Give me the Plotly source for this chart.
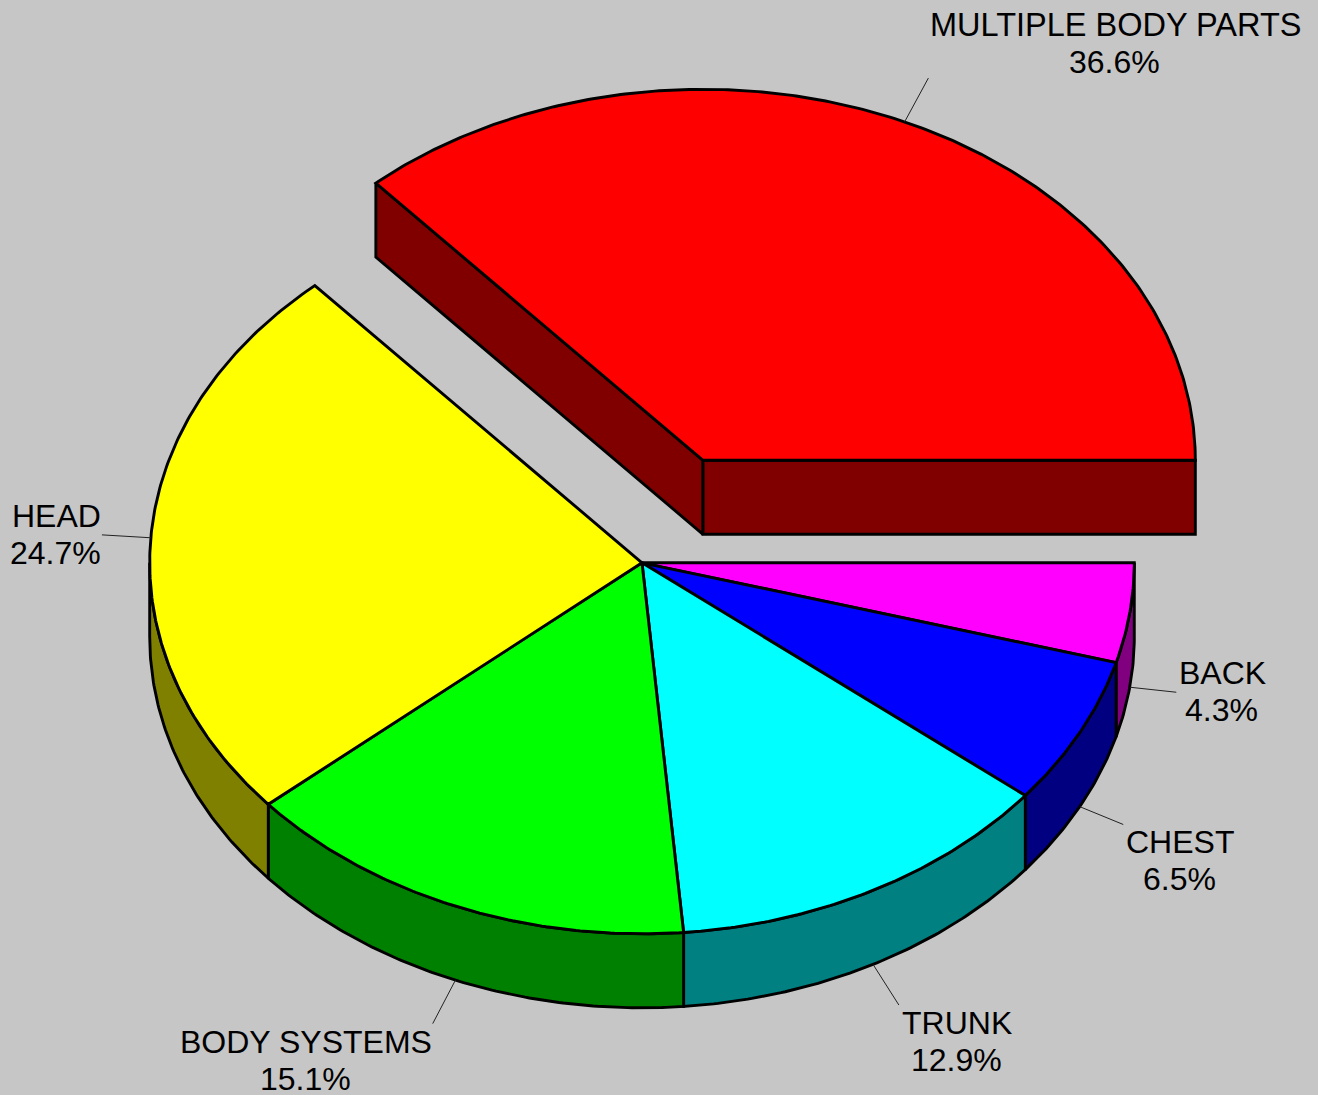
import numpy as np
import plotly.graph_objects as go

# Data
categories = ["BACK", "CHEST", "TRUNK", "BODY SYSTEMS", "HEAD", "MULTIPLE BODY PARTS"]
values = [4.34, 6.46, 12.86, 15.07, 24.72, 36.58]
exploded = [False, False, False, False, False, True]

# Styling
top_colors = ["#ff00ff", "#0000ff", "#00ffff", "#00ff00", "#ffff00", "#ff0000"]
side_colors = ["#800080", "#000080", "#008080", "#008000", "#808000", "#800000"]
BG = "#c6c6c6"
W, H = 1318, 1095

# Projection of the pie onto the page
CX, CY, RX, RY, DEPTH, PULL = 642, 562.8, 492.3, 371, 74, 149
LINE = dict(color="black", width=2.9)
FONT_FAMILY = "Liberation Sans, Arial, sans-serif"

# Label layout
leader_rx = [47, 49, 55, 60, 49, 58]
leader_ry = [37, 39, 46, 47, 43, 48]
label_x = [1222, 1180, 957, 306, 56, 1115]
label_y = [673, 842, 1023, 1042, 516, 25]
label_size = [32, 32, 32, 32, 32, 32.5]
LINE_GAP = 37.3

fractions = np.array(values) / sum(values)
edges = np.concatenate([[0], np.cumsum(fractions)]) * 2 * np.pi


def arc(a0, a1, cx, cy):
    n = max(2, int(abs(a1 - a0) * 180 / np.pi * 2) + 1)
    t = np.linspace(a0, a1, n)
    return cx + RX * np.cos(t), cy + RY * np.sin(t)


def poly(x, y, color):
    return go.Scatter(
        x=list(x) + [x[0]], y=list(y) + [y[0]], mode="lines", fill="toself",
        fillcolor=color, line=LINE, hoverinfo="skip", showlegend=False,
    )


fig = go.Figure()
centres = []
for i in range(len(values)):
    mid = (edges[i] + edges[i + 1]) / 2
    if exploded[i]:
        centres.append((CX + PULL * np.cos(mid), CY + PULL * 0.754 * np.sin(mid)))
    else:
        centres.append((CX, CY))

# Walls and rims, then tops
for i in range(len(values)):
    a0, a1 = edges[i], edges[i + 1]
    cx, cy = centres[i]
    if exploded[i]:
        for a in (a0, a1):
            ex, ey = cx + RX * np.cos(a), cy + RY * np.sin(a)
            fig.add_trace(poly([cx, ex, ex, cx], [cy, ey, ey + DEPTH, cy + DEPTH], side_colors[i]))
    lo, hi = max(a0, 0), min(a1, np.pi)
    if hi > lo:
        x, y = arc(lo, hi, cx, cy)
        fig.add_trace(poly(np.r_[x, x[::-1]], np.r_[y, (y + DEPTH)[::-1]], side_colors[i]))

for i in range(len(values)):
    cx, cy = centres[i]
    x, y = arc(edges[i], edges[i + 1], cx, cy)
    fig.add_trace(poly(np.r_[cx, x], np.r_[cy, y], top_colors[i]))

# Leaders and labels
annotations = []
for i, name in enumerate(categories):
    mid = (edges[i] + edges[i + 1]) / 2
    cx, cy = centres[i]
    sx, sy = cx + RX * np.cos(mid), cy + RY * np.sin(mid)
    if np.sin(mid) > 0:
        sy += DEPTH
    ex, ey = sx + leader_rx[i] * np.cos(mid), sy + leader_ry[i] * np.sin(mid)
    fig.add_trace(go.Scatter(x=[sx, ex], y=[sy, ey], mode="lines",
                             line=dict(color="#222222", width=1),
                             hoverinfo="skip", showlegend=False))
    font = dict(family=FONT_FAMILY, size=label_size[i], color="#000000")
    annotations.append(dict(x=label_x[i], y=label_y[i], text=name, showarrow=False,
                            xanchor="center", yanchor="middle", font=font,
                            xref="x", yref="y"))
    annotations.append(dict(x=label_x[i] - 1, y=label_y[i] + LINE_GAP,
                            text=f"{values[i]:.1f}%", showarrow=False,
                            xanchor="center", yanchor="middle",
                            font=dict(family=FONT_FAMILY, size=32, color="#000000"),
                            xref="x", yref="y"))

fig.update_layout(
    width=W, height=H, margin=dict(l=0, r=0, t=0, b=0, pad=0),
    paper_bgcolor=BG, plot_bgcolor=BG, annotations=annotations, showlegend=False,
    xaxis=dict(range=[0, W], visible=False, fixedrange=True),
    yaxis=dict(range=[H, 0], visible=False, fixedrange=True),
)
fig.write_html("out.html", config=dict(displayModeBar=False),
               post_script="document.body.style.margin='0';document.body.style.overflow='hidden';")
